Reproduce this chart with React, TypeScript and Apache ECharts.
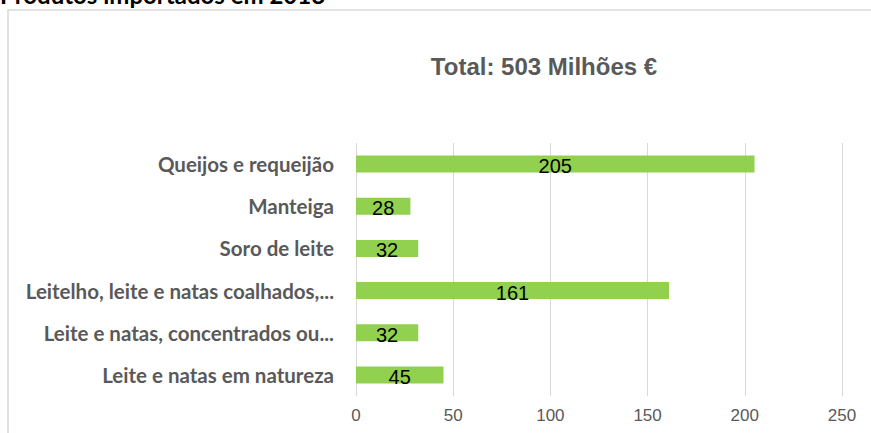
import React, { useEffect, useRef } from "react";
import * as echarts from "echarts";

const categories = [
  "Queijos e requeijão",
  "Manteiga",
  "Soro de leite",
  "Leitelho, leite e natas coalhados,...",
  "Leite e natas, concentrados ou...",
  "Leite e natas em natureza",
];
const values = [205, 28, 32, 161, 32, 45];
const xTicks = { min: 0, max: 250, interval: 50 };
const chartTitle = "Total: 503 Milhões €";
const pageTitle = "Produtos importados em 2018";

export default function App() {
  const ref = useRef<HTMLDivElement>(null);
  useEffect(() => {
    if (!ref.current) return;
    const chart = echarts.init(ref.current, null, { renderer: "svg" });
    chart.setOption({
      animation: false,
      backgroundColor: "#ffffff",
      title: {
        text: chartTitle,
        left: 539,
        top: 49,
        textAlign: "center",
        textStyle: {
          fontFamily: "Liberation Sans",
          fontSize: 24,
          fontWeight: "bold",
          color: "#595959",
        },
      },
      graphic: [
        {
          type: "rect",
          shape: { x: 8, y: 10, width: 900, height: 500 },
          style: { fill: "none", stroke: "#d9d9d9", lineWidth: 1.5 },
          z: -1,
        },
        {
          type: "text",
          x: 0,
          y: 6,
          style: {
            text: pageTitle,
            font: "bold 24px Lato",
            fill: "#000000",
            textAlign: "left",
            textVerticalAlign: "bottom",
          },
        },
      ],
      grid: { left: 356, right: 29, top: 143, bottom: 37, containLabel: false },
      xAxis: {
        type: "value",
        min: xTicks.min,
        max: xTicks.max,
        interval: xTicks.interval,
        axisLine: { show: false },
        axisTick: { show: false },
        splitLine: { lineStyle: { color: "#d9d9d9", width: 1 } },
        axisLabel: {
          fontFamily: "Liberation Sans",
          fontSize: 17,
          color: "#595959",
          margin: 11,
        },
      },
      yAxis: {
        type: "category",
        data: categories,
        inverse: true,
        axisLine: { show: false },
        axisTick: { show: false },
        axisLabel: {
          fontFamily: "Lato",
          fontSize: 20.5,
          fontWeight: "bold",
          color: "#595959",
          margin: 22,
        },
      },
      series: [
        {
          type: "bar",
          data: values,
          barWidth: 17,
          itemStyle: { color: "#92D050" },
          label: {
            show: true,
            position: "inside",
            offset: [0, 2],
            fontFamily: "Liberation Sans",
            fontSize: 20,
            color: "#000000",
          },
        },
      ],
    });
    return () => chart.dispose();
  }, []);
  return (
    <div
      ref={ref}
      style={{ position: "fixed", left: 0, top: 0, width: 871, height: 433 }}
    />
  );
}
